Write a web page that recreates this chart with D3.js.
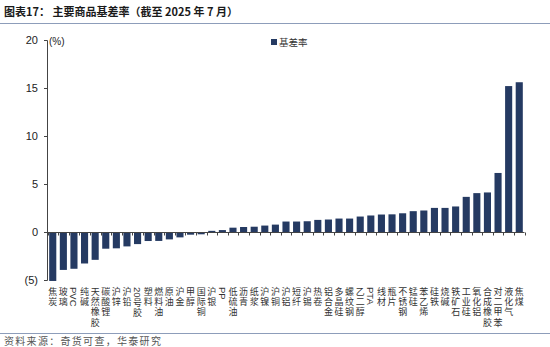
<!DOCTYPE html>
<html>
<head>
<meta charset="utf-8">
<script src="https://cdn.jsdelivr.net/npm/d3@7"></script>
<style>
  html, body { margin: 0; padding: 0; background: #fff; }
  svg { display: block; }
  .cat-label { writing-mode: vertical-rl; text-orientation: mixed; }
</style>
</head>
<body>
<svg id="chart" width="550" height="347"></svg>
<script>
// Commodity basis rates (%), as of July 2025
const categories = [
  "焦炭", "玻璃", "PVC", "纯碱", "天然橡胶", "碳酸锂", "沪锌", "沪铅", "20号胶", "塑料",
  "燃料油", "原油", "沪金", "甲醇", "国际铜", "沪银", "PP", "低硫油", "沥青", "纸浆",
  "沪镍", "沪铜", "沪铝", "短纤", "沪锡", "热卷", "铝合金", "多晶硅", "螺纹钢", "乙二醇",
  "PTA", "线材", "瓶片", "不锈钢", "锰硅", "苯乙烯", "硅铁", "烧碱", "铁矿石", "工业硅",
  "氧化铝", "合成橡胶", "对二甲苯", "液化气", "焦煤"
];
const basisRate = [
  -5.1, -3.95, -3.83, -3.28, -2.9, -1.74, -1.7, -1.5, -1.26, -0.94,
  -0.93, -0.77, -0.56, -0.28, -0.24, 0.12, 0.2, 0.45, 0.52, 0.55,
  0.67, 0.77, 1.09, 1.09, 1.12, 1.26, 1.3, 1.4, 1.4, 1.61,
  1.72, 1.82, 1.84, 1.95, 2.17, 2.24, 2.51, 2.51, 2.66, 3.66,
  4.05, 4.12, 6.15, 15.2, 15.6
];
const yTicks = [-5, 0, 5, 10, 15, 20];
const seriesName = "基差率";
const titleText = "图表17：  主要商品基差率（截至 2025 年 7 月）";
const sourceText = "资料来源：奇货可查，华泰研究";

const barColor = "#253a62";
const ruleColor = "#8d9dba";
const cjkFont = "'Noto Sans CJK SC', 'Noto Sans', sans-serif";
const numFont = "'Liberation Sans', Arial, sans-serif";

const svg = d3.select("#chart");

// Title and rules
svg.append("text")
  .attr("x", 4).attr("y", 16)
  .attr("font-family", cjkFont)
  .attr("font-size", 11)
  .attr("font-weight", "bold")
  .attr("fill", "#1a1a1a")
  .text(titleText);
svg.append("line")
  .attr("x1", 0).attr("x2", 550).attr("y1", 23.5).attr("y2", 23.5)
  .attr("stroke", ruleColor).attr("stroke-width", 1);
svg.append("line")
  .attr("x1", 0).attr("x2", 550).attr("y1", 333.5).attr("y2", 333.5)
  .attr("stroke", ruleColor).attr("stroke-width", 1);
svg.append("text")
  .attr("x", 4).attr("y", 344.5)
  .attr("font-family", cjkFont)
  .attr("font-size", 10)
  .attr("letter-spacing", 1.3)
  .attr("fill", "#555")
  .text(sourceText);

// Scales
const x = d3.scaleBand()
  .domain(categories)
  .range([47.5, 524.5])
  .paddingInner(0.33)
  .paddingOuter(0.16);
const y = d3.scaleLinear()
  .domain([-5, 20])
  .range([280, 40]);

// Y axis
const yAxis = d3.axisLeft(y)
  .tickValues(yTicks)
  .tickSize(3)
  .tickPadding(6)
  .tickFormat(d => d < 0 ? `(${Math.abs(d)})` : d3.format("d")(d));
const gy = svg.append("g")
  .attr("transform", "translate(47,0)")
  .call(yAxis);
gy.select(".domain").attr("stroke", "#444");
gy.selectAll(".tick line").attr("stroke", "#444");
gy.selectAll(".tick text")
  .attr("font-family", numFont)
  .attr("font-size", 11)
  .attr("fill", "#222");

svg.append("text")
  .attr("x", 49).attr("y", 45)
  .attr("font-family", numFont)
  .attr("font-size", 10)
  .attr("fill", "#222")
  .text("(%)");

// Bars
svg.append("g")
  .selectAll("rect")
  .data(categories.map((c, i) => ({ c, v: basisRate[i] })))
  .join("rect")
  .attr("x", d => x(d.c))
  .attr("width", x.bandwidth())
  .attr("y", d => y(Math.max(0, d.v)))
  .attr("height", d => Math.abs(y(d.v) - y(0)))
  .attr("fill", barColor);

// X axis along zero with ticks at category boundaries
const y0 = Math.round(y(0)) + 0.5;
svg.append("line")
  .attr("x1", 47).attr("x2", 524.5)
  .attr("y1", y0).attr("y2", y0)
  .attr("stroke", "#444");
const step = x.step();
const edges = d3.range(categories.length + 1).map(i => 47.5 + i * step);
svg.append("g")
  .selectAll("line")
  .data(edges)
  .join("line")
  .attr("x1", d => Math.round(d) + 0.5).attr("x2", d => Math.round(d) + 0.5)
  .attr("y1", y0).attr("y2", y0 + 3)
  .attr("stroke", "#444");

// Vertical category labels (CJK upright and spaced, Latin runs turned sideways)
const labels = svg.append("g")
  .selectAll("text")
  .data(categories)
  .join("text")
  .attr("class", "cat-label")
  .attr("x", c => x(c) + x.bandwidth() / 2)
  .attr("y", 287)
  .attr("font-family", cjkFont)
  .attr("font-size", 9)
  .attr("fill", "#333");
labels.each(function (c) {
  const t = d3.select(this);
  c.match(/[A-Za-z0-9]+|[^A-Za-z0-9]/g).forEach(tok => {
    const latin = /^[A-Za-z0-9]+$/.test(tok);
    t.append("tspan")
      .attr("letter-spacing", latin ? 0 : 1.2)
      .attr("font-family", latin ? numFont : cjkFont)
      .attr("font-size", latin ? 9.5 : 9)
      .text(tok);
  });
});

// Legend
svg.append("rect")
  .attr("x", 271).attr("y", 39)
  .attr("width", 6).attr("height", 6)
  .attr("fill", barColor);
svg.append("text")
  .attr("x", 279).attr("y", 46)
  .attr("font-family", cjkFont)
  .attr("font-size", 9.5)
  .attr("fill", "#333")
  .text(seriesName);
</script>
</body>
</html>
